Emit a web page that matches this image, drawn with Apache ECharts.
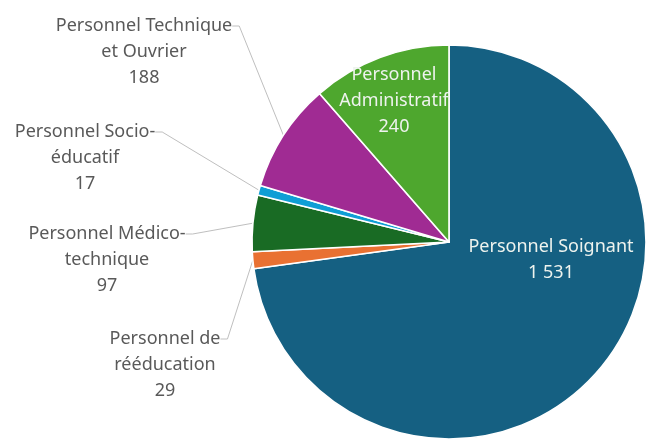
<!DOCTYPE html>
<html>
<head>
<meta charset="utf-8">
<script src="https://cdn.jsdelivr.net/npm/echarts@6/dist/echarts.min.js"></script>
<style>
  html, body { margin: 0; padding: 0; background: #ffffff; }
  #chart { width: 650px; height: 441px; }
</style>
</head>
<body>
<div id="chart"></div>
<script>
// Effectifs par catégorie de personnel
const categories = [
  'Personnel Soignant',
  'Personnel de\nrééducation',
  'Personnel Médico-\ntechnique',
  'Personnel Socio-\néducatif',
  'Personnel Technique\net Ouvrier',
  'Personnel\nAdministratif'
];
const effectifs = [1531, 29, 97, 17, 188, 240];

// Couleurs des parts et placement des étiquettes
// (extérieures : centre de la première ligne ; intérieures : centre du bloc)
const sliceColors = ['#156082', '#e97132', '#196b24', '#0f9ed5', '#a02b93', '#4ea72e'];
const labelAnchors = [[551, 260], [165, 339], [107, 234], [85, 132], [144, 26], [394, 101]];
const insideLabel = [true, false, false, false, false, true];

function formatNumber(v) {
  return String(v).replace(/\B(?=(\d{3})+(?!\d))/g, ' ');
}

const chart = echarts.init(document.getElementById('chart'), null, { renderer: 'canvas' });

chart.setOption({
  animation: false,
  backgroundColor: '#ffffff',
  series: [{
    type: 'pie',
    center: [449, 242],
    radius: 197,
    startAngle: 90,
    clockwise: true,
    avoidLabelOverlap: false,
    itemStyle: { borderColor: '#ffffff', borderWidth: 1.6 },
    label: {
      show: true,
      position: 'outside',
      // outer labels get two blank lines on top so that the middle of the
      // text box sits on the first line, where the leader line attaches
      formatter: p => (insideLabel[p.dataIndex] ? '' : '\n\n')
        + p.name + '\n' + formatNumber(p.value),
      fontFamily: 'Noto Sans',
      fontSize: 18,
      lineHeight: 26,
      color: '#595959',
      align: 'center'
    },
    labelLine: {
      show: true,
      length: 10,
      length2: 7,
      lineStyle: { color: '#bfbfbf', width: 1 }
    },
    labelLayout: function (params) {
      const a = labelAnchors[params.dataIndex];
      return { x: a[0], y: a[1], align: 'center', verticalAlign: 'middle' };
    },
    data: categories.map((name, i) => ({
      name: name,
      value: effectifs[i],
      itemStyle: { color: sliceColors[i] },
      label: insideLabel[i] ? { color: '#eef3ee' } : {},
      labelLine: insideLabel[i] ? { show: false } : {}
    }))
  }]
});
</script>
</body>
</html>
